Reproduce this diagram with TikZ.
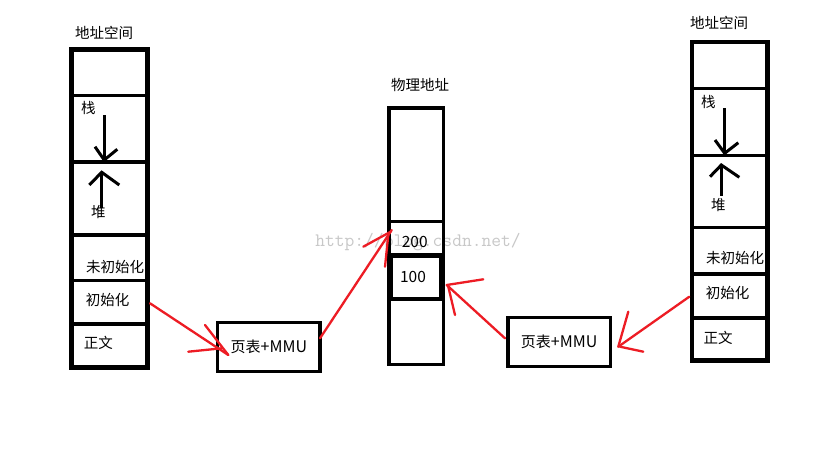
\documentclass[tikz,border=0pt]{standalone}
\usepackage{fontspec}
\setmainfont{Noto Sans CJK SC}
\definecolor{paintred}{RGB}{237,28,36}
\definecolor{wmgray}{RGB}{200,200,200}
\begin{document}
\begin{tikzpicture}[x=1pt,y=-1pt,
  colframe/.style={line width=4.8pt},
  coldiv/.style={line width=3.4pt},
  midframe/.style={line width=3.3pt},
  blkarrow/.style={line width=3pt},
  redarrow/.style={draw=paintred,line width=2.3pt,line cap=round},
  lbl/.style={font=\fontsize{14.5}{16}\selectfont,inner sep=0pt},
  numlbl/.style={font=\fontsize{15.5}{17}\selectfont,inner sep=0pt},
  mmubox/.style={draw,line width=3.3pt,minimum width=102.3pt,minimum height=49.4pt,inner sep=0pt,font=\fontsize{15}{17}\selectfont}
]
\useasboundingbox (0,0) rectangle (819,460);
\fill[white] (0,0) rectangle (819,460);

% watermark
\node[text=wmgray,font=\ttfamily\fontsize{19}{20}\selectfont,inner sep=0pt] (wm) at (418,241.7) {http://blog.csdn.net/};

% ---------- left address space ----------
\node[lbl] (tL) at (104,33) {地址空间};
\draw[colframe] (71.7,49.8) rectangle (147.5,367.5);
\foreach \yy in {95.5,162,235,280.5,324}
  \draw[coldiv] (71.7,\yy) -- (147.5,\yy);
\node[lbl] (stackL) at (88.3,108.3) {栈};
\node[lbl] (heapL) at (98.3,211.7) {堆};
\node[lbl] (bssL) at (115,267) {未初始化};
\node[lbl] (dataL) at (107.5,300) {初始化};
\node[lbl] (textL) at (98.3,343) {正文};
% stack / heap arrows
\coordinate (sLa) at (104.2,115);
\coordinate (sLb) at (104.2,160);
\coordinate (sLh1) at (95,146.7);
\coordinate (sLh2) at (117.3,149.3);
\draw[blkarrow] (sLa) -- (sLb);
\draw[blkarrow] (sLh1) -- (sLb) -- (sLh2);
\coordinate (hLa) at (101.7,208.3);
\coordinate (hLb) at (101.7,172.3);
\coordinate (hLh1) at (89.3,185);
\coordinate (hLh2) at (119.3,185);
\draw[blkarrow] (hLa) -- (hLb);
\draw[blkarrow] (hLh1) -- (hLb) -- (hLh2);

% ---------- right address space ----------
\node[lbl] (tR) at (719,23) {地址空间};
\draw[colframe] (692,42) rectangle (767.5,360.5);
\foreach \yy in {88.7,155.7,227.5,274,318}
  \draw[coldiv] (692,\yy) -- (767.5,\yy);
\node[lbl] (stackR) at (708.3,101.7) {栈};
\node[lbl] (heapR) at (718.3,205) {堆};
\node[lbl] (bssR) at (735,258) {未初始化};
\node[lbl] (dataR) at (727.5,293) {初始化};
\node[lbl] (textR) at (718,338) {正文};
\coordinate (sRa) at (724.7,108.3);
\coordinate (sRb) at (724.7,153.3);
\coordinate (sRh1) at (715,140);
\coordinate (sRh2) at (738.3,142.7);
\draw[blkarrow] (sRa) -- (sRb);
\draw[blkarrow] (sRh1) -- (sRb) -- (sRh2);
\coordinate (hRa) at (721.3,195.7);
\coordinate (hRb) at (721.3,165);
\coordinate (hRh1) at (710,176.7);
\coordinate (hRh2) at (739.3,177.3);
\draw[blkarrow] (hRa) -- (hRb);
\draw[blkarrow] (hRh1) -- (hRb) -- (hRh2);

% ---------- physical memory ----------
\node[lbl] (tM) at (420,85) {物理地址};
\draw[midframe] (389,108) rectangle (443.3,364.8);
\draw[midframe] (389,221.3) -- (443.3,221.3);
\draw[line width=4.5pt] (390.8,255.7) rectangle (441.2,299);
\node[numlbl] (p200) at (414.7,241.7) {200};
\node[numlbl] (p100) at (413,277) {100};

% ---------- page table + MMU ----------
\node[mmubox] (mmuL) at (268.85,347) {页表{\fontsize{16}{17}\selectfont+MMU}};
\node[mmubox] (mmuR) at (559.15,341.85) {页表{\fontsize{16}{17}\selectfont+MMU}};

% ---------- red arrows ----------
% left space -> left MMU
\coordinate (r1s) at (150,303.3);
\coordinate (r1t) at (228.3,355);
\coordinate (r1a) at (205,325);
\coordinate (r1b) at (188.3,351.7);
\coordinate (r1bt) at (221.7,348.3);
\draw[redarrow] (r1s) -- (r1t);
\draw[redarrow] (r1a) -- (r1t);
\draw[redarrow] (r1b) -- (r1bt);
% left MMU -> 200
\coordinate (r2s) at (320,338.3);
\coordinate (r2t) at (391.7,230);
\coordinate (r2a) at (363.3,246.7);
\coordinate (r2at) at (390.7,231.7);
\coordinate (r2b) at (385,266.7);
\coordinate (r2bt) at (388.3,235);
\draw[redarrow] (r2s) -- (r2t);
\draw[redarrow] (r2a) -- (r2at);
\draw[redarrow] (r2b) -- (r2bt);
% right MMU -> 100
\coordinate (r3s) at (505,338.3);
\coordinate (r3t) at (446.7,285);
\coordinate (r3a) at (483.3,279.3);
\coordinate (r3b) at (455,315);
\coordinate (r3bt) at (448.3,286.7);
\draw[redarrow] (r3s) -- (r3t);
\draw[redarrow] (r3a) -- (r3t);
\draw[redarrow] (r3b) -- (r3bt);
% right space -> right MMU
\coordinate (r4s) at (689.3,296.7);
\coordinate (r4t) at (618.3,346.7);
\coordinate (r4a) at (628.3,311.7);
\coordinate (r4b) at (643.3,351.7);
\coordinate (r4bt) at (620,346.7);
\draw[redarrow] (r4s) -- (r4t);
\draw[redarrow] (r4a) -- (r4t);
\draw[redarrow] (r4b) -- (r4bt);
\end{tikzpicture}
\end{document}
